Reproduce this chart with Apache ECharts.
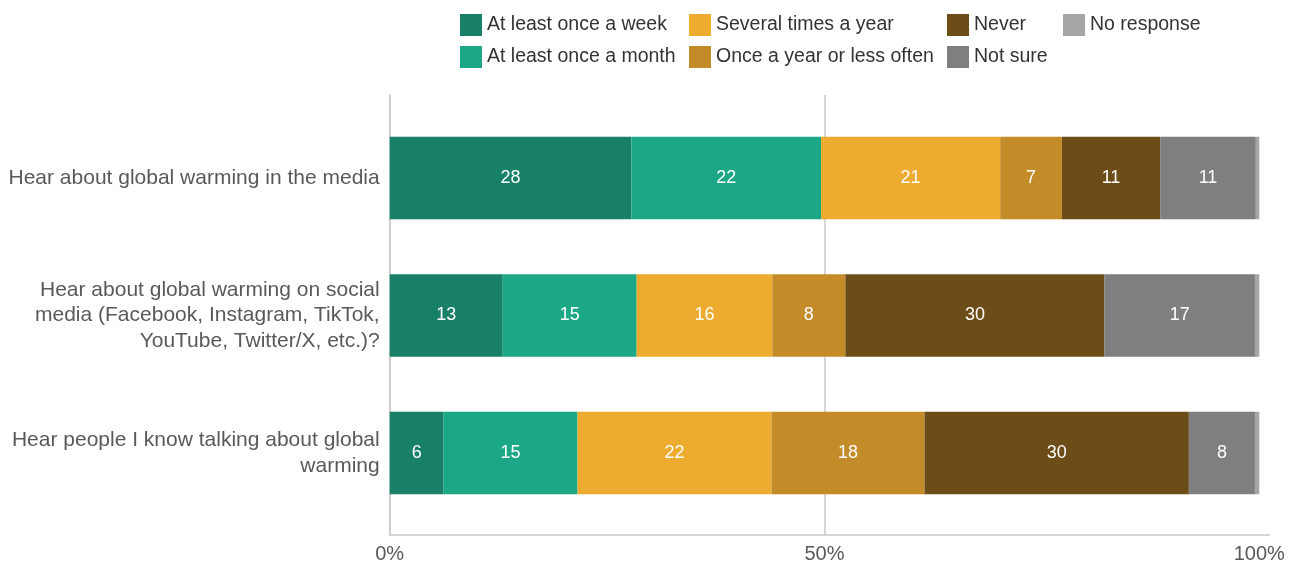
<!DOCTYPE html>
<html>
<head>
<meta charset="utf-8">
<script src="https://cdn.jsdelivr.net/npm/echarts@6/dist/echarts.min.js"></script>
<style>html,body{margin:0;padding:0;background:#fff;}#c{width:1296px;height:568px;}</style>
</head>
<body>
<div id="c"></div>
<script>
const categories = [
  "Hear about global warming in the media",
  "Hear about global warming on social\nmedia (Facebook, Instagram, TikTok,\nYouTube, Twitter/X, etc.)?",
  "Hear people I know talking about global\nwarming"
];
const seriesNames = ["At least once a week", "At least once a month", "Several times a year", "Once a year or less often", "Never", "Not sure", "No response"];
const atLeastOnceAWeek   = [27.8, 13.0, 6.2];
const atLeastOnceAMonth  = [21.8, 15.4, 15.4];
const severalTimesAYear  = [20.6, 15.6, 22.3];
const onceAYearOrLess    = [7.1, 8.4, 17.6];
const never              = [11.3, 29.8, 30.4];
const notSure            = [11.0, 17.3, 7.6];
const noResponse         = [0.4, 0.5, 0.5];
const xTickLabels = ["0%", "50%", "100%"];

const colors = ["#178067", "#1CA886", "#EDAC2F", "#C38C28", "#6D4D17", "#7F7F7F", "#A6A6A6"];
const values = [atLeastOnceAWeek, atLeastOnceAMonth, severalTimesAYear, onceAYearOrLess, never, notSure, noResponse];
const FONT = "'Liberation Sans', Arial, sans-serif";

const chart = echarts.init(document.getElementById('c'), null, {renderer: 'canvas'});

const series = values.map((vals, i) => ({
  name: seriesNames[i],
  type: 'bar',
  stack: 'total',
  xAxisIndex: 0,
  yAxisIndex: 0,
  barCategoryGap: '40%',
  itemStyle: {color: colors[i]},
  label: {
    show: i < 6,
    position: 'inside',
    color: '#fff',
    fontSize: 18,
    fontFamily: FONT,
    formatter: p => String(Math.round(p.value))
  },
  emphasis: {disabled: true},
  data: vals
}));

function legendCol(names, left) {
  return {
    orient: 'vertical', left: left, top: 14, padding: 0,
    itemWidth: 22, itemHeight: 22, itemGap: 10,
    icon: 'rect', selectedMode: false,
    textStyle: {fontSize: 19.5, color: '#333', fontFamily: FONT},
    data: names
  };
}

chart.setOption({
  animation: false,
  textStyle: {fontFamily: FONT},
  legend: [
    legendCol([seriesNames[0], seriesNames[1]], 460),
    legendCol([seriesNames[2], seriesNames[3]], 689),
    legendCol([seriesNames[4], seriesNames[5]], 947),
    legendCol([seriesNames[6]], 1063)
  ],
  grid: [
    {left: 389.7, right: 36.7, top: 109.25, bottom: 46.25, containLabel: false},
    {left: 389.7, right: 26.7, top: 95, bottom: 33, containLabel: false}
  ],
  xAxis: [
    {type: 'value', gridIndex: 0, min: 0, max: 100, show: false, splitLine: {show: false}},
    {type: 'value', gridIndex: 1, min: 0, max: 101.15, interval: 50,
     axisLine: {show: true, lineStyle: {color: '#c8c8c8', width: 1.5}},
     axisTick: {show: false},
     axisLabel: {fontSize: 20, color: '#595959', fontFamily: FONT, margin: 9,
       formatter: v => (v % 50 === 0 ? xTickLabels[v / 50] : '')},
     splitLine: {show: true, showMinLine: true, showMaxLine: false,
       lineStyle: {color: ['#c8c8c8', '#c8c8c8', 'rgba(0,0,0,0)', 'rgba(0,0,0,0)'], width: 1.5}}
    }
  ],
  yAxis: [
    {type: 'category', gridIndex: 0, inverse: true, data: categories,
     axisLine: {show: false}, axisTick: {show: false},
     axisLabel: {fontSize: 21, color: '#595959', fontFamily: FONT, margin: 10, lineHeight: 25.5, align: 'right'}},
    {type: 'value', gridIndex: 1, min: 0, max: 1,
     axisLine: {show: true, lineStyle: {color: '#c8c8c8', width: 1.5}},
     axisTick: {show: false}, axisLabel: {show: false}, splitLine: {show: false}}
  ],
  series: series
});
</script>
</body>
</html>
